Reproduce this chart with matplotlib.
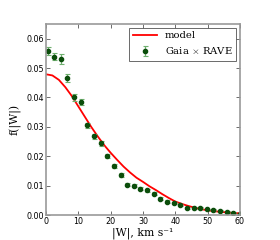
import numpy as np
import matplotlib
matplotlib.use("Agg")
import matplotlib.pyplot as plt

# data
w_obs = np.linspace(0.5, 60, 30)
f_obs = [0.0557, 0.0539, 0.0531, 0.0466, 0.0400, 0.0385, 0.0305, 0.0268,
         0.0244, 0.0200, 0.0166, 0.0136, 0.0103, 0.0100, 0.0090, 0.0085,
         0.0073, 0.0056, 0.0046, 0.0041, 0.0033, 0.0025, 0.0024, 0.0023,
         0.0020, 0.0017, 0.0015, 0.0011, 0.0008, 0.0005]
f_err = [0.0014, 0.0013, 0.0016, 0.0013, 0.0011, 0.0010, 0.0009, 0.0008,
         0.0008, 0.0007, 0.0007, 0.0006, 0.0005, 0.0005, 0.0005, 0.0005,
         0.0004, 0.0004, 0.0004, 0.0003, 0.0003, 0.0003, 0.0003, 0.0003,
         0.0002, 0.0002, 0.0002, 0.0002, 0.0002, 0.0002]

w_model = np.arange(0, 61, 2)
f_model = [0.0479, 0.0475, 0.0460, 0.0435, 0.0405, 0.0370, 0.0335, 0.0300,
           0.0268, 0.0238, 0.0212, 0.0188, 0.0165, 0.0145, 0.0127, 0.0113,
           0.0098, 0.0085, 0.0071, 0.0058, 0.0046, 0.0038, 0.0031, 0.0025,
           0.0020, 0.0016, 0.0013, 0.0011, 0.0009, 0.0007, 0.0006]

plt.rcParams['mathtext.fontset'] = 'cm'

fig = plt.figure(figsize=(2.8, 2.4), dpi=100)
ax = fig.add_axes([0.164, 0.104, 0.693, 0.796])

ax.plot(w_model, f_model, color='red', lw=1.3, label='model')
ax.errorbar(w_obs, f_obs, yerr=f_err, fmt='o', ms=3.0, color='#0b4d0b',
            ecolor='#6fb06f', elinewidth=0.9, capsize=1.8, capthick=0.8,
            label=r'Gaia $\times$ RAVE')

ax.set_xlim(0, 60)
ax.set_ylim(0, 0.065)
ax.set_xticks([0, 10, 20, 30, 40, 50, 60])
ax.set_yticks([0.0, 0.01, 0.02, 0.03, 0.04, 0.05, 0.06])
ax.set_yticklabels(['0.00', '0.01', '0.02', '0.03', '0.04', '0.05', '0.06'])
ax.tick_params(direction='in', top=True, right=True, labelsize=5.8,
               length=3, width=0.6, color='#555555', pad=1.5)
for s in ax.spines.values():
    s.set_color('#999999')
    s.set_linewidth(1.2)

ax.set_xlabel('|W|, km s\u207b\u00b9', fontsize=7.8, fontfamily='serif',
              labelpad=1)
ax.set_ylabel('f(|W|)', fontsize=7.8, fontfamily='serif', labelpad=3)

leg = ax.legend(loc='upper right', prop={'family': 'serif', 'size': 7.2},
                fancybox=False, borderpad=0.4, handlelength=2.4,
                borderaxespad=0.35, labelspacing=0.5)
leg.get_frame().set_edgecolor('#444444')
leg.get_frame().set_linewidth(0.7)

fig.savefig('out.png', dpi=100)
